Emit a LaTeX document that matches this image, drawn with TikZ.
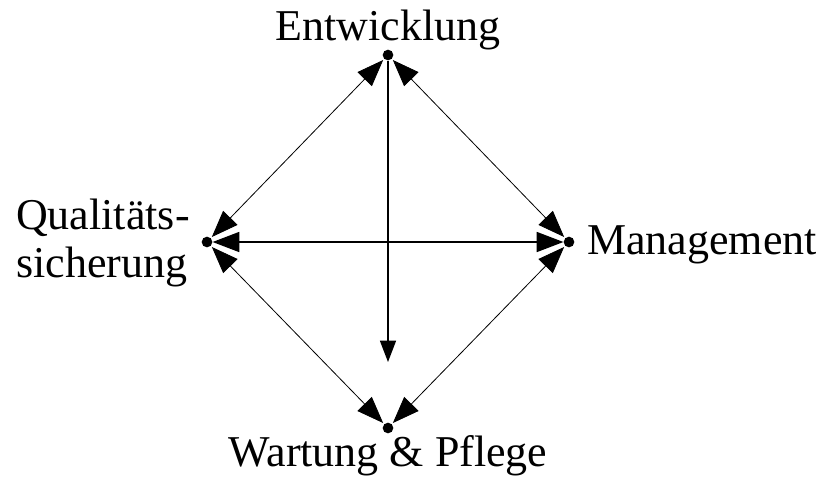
\documentclass[tikz,border=0pt]{standalone}
\usepackage{fontspec}
\setmainfont{Liberation Serif}
\usepackage{tikz}
\usetikzlibrary{arrows.meta, positioning}

\begin{document}
\begin{tikzpicture}[x=0.75pt, y=-0.75pt,
    dot/.style={circle, fill=black, inner sep=0pt, minimum size=8pt},
    lbl/.style={font=\fontsize{33}{36}\selectfont, inner sep=0pt},
    link/.style={line width=0.6pt, {Triangle[length=20pt, width=15pt]}-{Triangle[length=20pt, width=15pt]}, shorten <=1pt, shorten >=1pt},
    axis/.style={line width=1.1pt}]
    \useasboundingbox (0,0) rectangle (825,476);

    % Corner points
    \node[dot] (top) at (388,55) {};
    \node[dot] (left) at (207,242) {};
    \node[dot] (right) at (569,242) {};
    \node[dot] (bottom) at (388,428) {};
    \coordinate (vend) at (388,362);

    % Labels
    \node[lbl, anchor=base] (ent) at (388,40) {Entwicklung};
    \node[lbl, anchor=west] (man) at (587,245) {Management};
    \node[lbl, anchor=east, align=left] (qs) at (190,243) {Qualitäts-\\sicherung};
    \node[lbl, anchor=base] (wp) at (388,466) {Wartung \& Pflege};

    % Diamond
    \draw[link] (top) -- (left);
    \draw[link] (top) -- (right);
    \draw[link] (bottom) -- (left);
    \draw[link] (bottom) -- (right);

    % Cross
    \draw[axis, {Triangle[length=20pt, width=15pt]}-{Triangle[length=20pt, width=15pt]}] (left) -- (right);
    \draw[axis, -{Triangle[length=16pt, width=12pt]}] (top) -- (vend);

\end{tikzpicture}
\end{document}
